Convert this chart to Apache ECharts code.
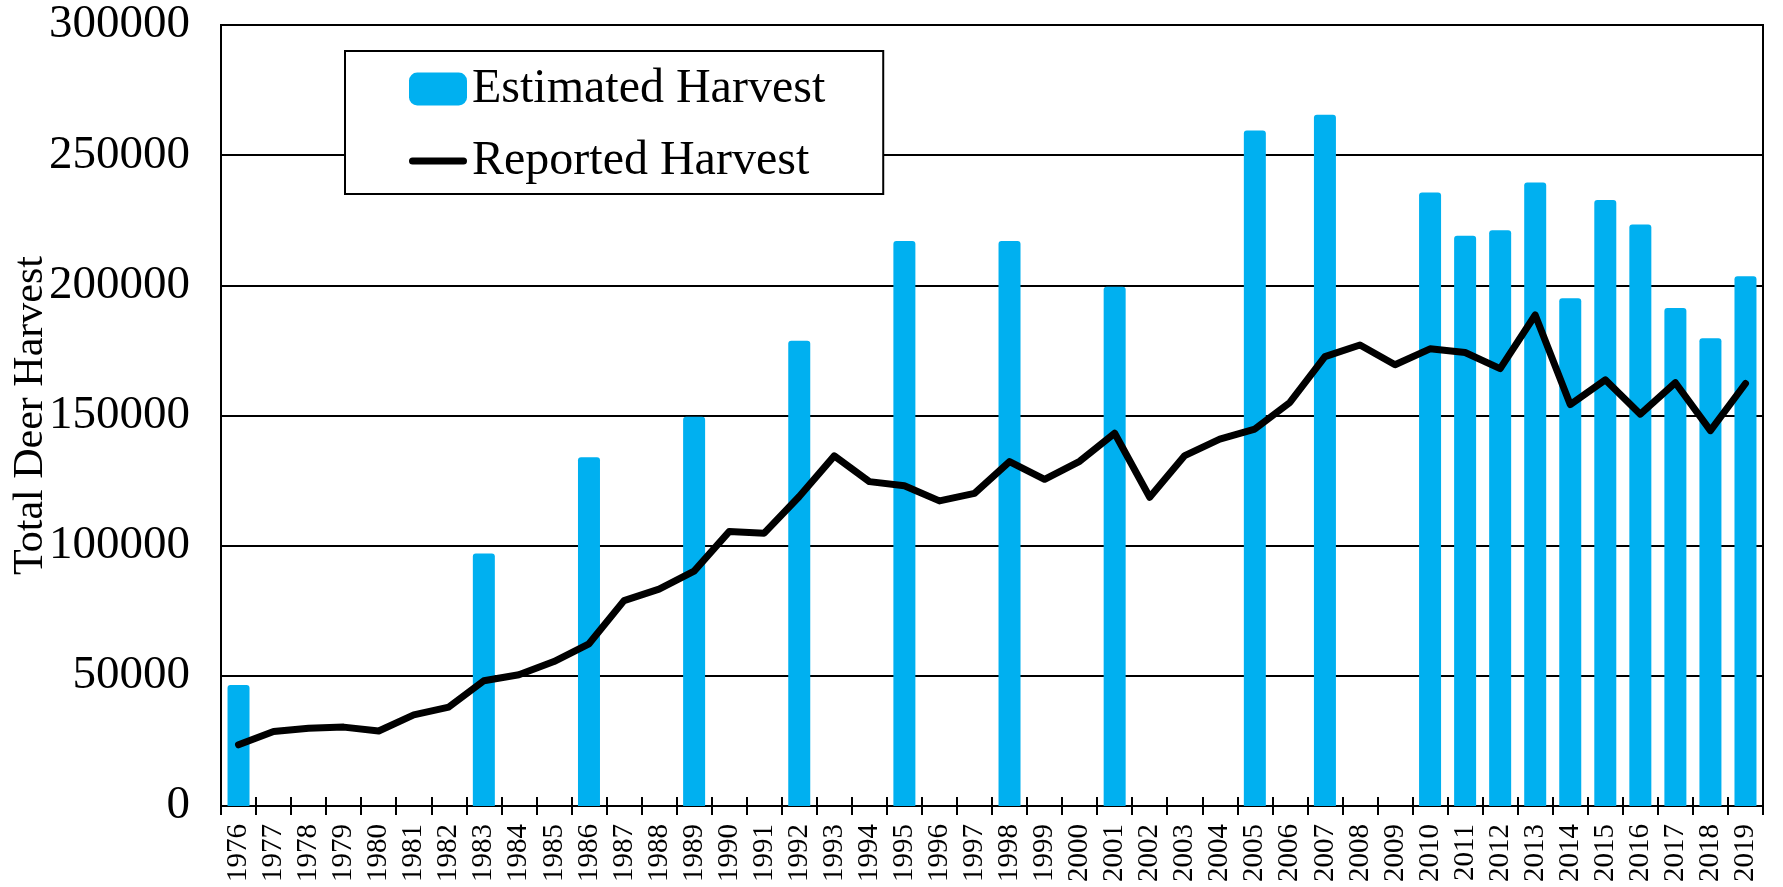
<!DOCTYPE html>
<html>
<head>
<meta charset="utf-8">
<script src="https://cdn.jsdelivr.net/npm/echarts@6/dist/echarts.min.js"></script>
<style>
html,body{margin:0;padding:0;background:#fff;}
#chart{width:1783px;height:887px;}
</style>
</head>
<body>
<div id="chart"></div>
<script>
const years = ['1976','1977','1978','1979','1980','1981','1982','1983','1984','1985','1986','1987','1988','1989','1990','1991','1992','1993','1994','1995','1996','1997','1998','1999','2000','2001','2002','2003','2004','2005','2006','2007','2008','2009','2010','2011','2012','2013','2014','2015','2016','2017','2018','2019'];

const estimatedHarvest = [46500,null,null,null,null,null,null,97000,null,null,134000,null,null,149500,null,null,178700,null,null,217000,null,null,217000,null,null,199500,null,null,null,259500,null,265500,null,null,235700,219000,221200,239500,195000,232800,223400,191300,179700,203500];

const reportedHarvest = [23500,28600,29900,30300,28800,35000,38000,48100,50400,55500,62300,78900,83300,90200,105400,104800,118900,134500,124600,123000,117200,120100,132300,125500,132400,143200,118600,134600,140900,144800,155000,172600,177100,169500,175600,174200,168000,188600,154200,163700,150500,162600,144200,162300];

const yTicks = {min: 0, max: 300000, interval: 50000};
const seriesNames = ['Estimated Harvest', 'Reported Harvest'];
const yTitle = 'Total Deer Harvest';

const FONT = '"Liberation Serif", "Times New Roman", serif';
const chart = echarts.init(document.getElementById('chart'), null, {renderer: 'canvas'});

chart.setOption({
  animation: false,
  backgroundColor: '#ffffff',
  grid: {
    left: 221, right: 20, top: 25, bottom: 81,
    containLabel: false,
    outerBoundsMode: 'none',
    show: true, borderColor: '#000', borderWidth: 2, backgroundColor: 'transparent'
  },
  legend: {
    orient: 'vertical',
    left: 345, top: 51,
    padding: [14, 58, 9, 64],
    itemGap: 24,
    itemWidth: 58, itemHeight: 33,
    borderColor: '#000', borderWidth: 2,
    backgroundColor: '#fff',
    textStyle: {fontFamily: FONT, fontSize: 48, color: '#000', lineHeight: 47},
    data: [
      {name: seriesNames[0], icon: 'roundRect', itemStyle: {color: '#00B0F0'}},
      {name: seriesNames[1], icon: 'path://M3.5,0 L54.5,0 A3.5,3.5 0 0 1 54.5,7 L3.5,7 A3.5,3.5 0 0 1 3.5,0 Z', itemStyle: {color: '#000'}}
    ]
  },
  xAxis: [{
    type: 'category',
    data: years,
    boundaryGap: true,
    axisLine: {show: true, lineStyle: {color: '#000', width: 2}},
    axisTick: {show: true, length: 9, lineStyle: {color: '#000', width: 2}},
    axisLabel: {rotate: 90, fontFamily: FONT, fontSize: 29, color: '#000', margin: 18, interval: 0},
    splitLine: {show: false}
  }, {
    type: 'category',
    data: years,
    position: 'bottom',
    boundaryGap: true,
    axisLine: {show: false},
    axisTick: {show: true, inside: true, length: 9, lineStyle: {color: '#000', width: 2}},
    axisLabel: {show: false},
    splitLine: {show: false}
  }],
  yAxis: {
    type: 'value',
    min: yTicks.min, max: yTicks.max, interval: yTicks.interval,
    name: yTitle,
    nameLocation: 'middle',
    nameRotate: 90,
    nameGap: 169,
    nameMoveOverlap: false,
    nameTextStyle: {fontFamily: FONT, fontSize: 42, color: '#000'},
    axisLine: {show: true, lineStyle: {color: '#000', width: 2}},
    axisTick: {show: false},
    axisLabel: {fontFamily: FONT, fontSize: 47, color: '#000', margin: 31, formatter: function (v) { return String(v); }},
    splitLine: {show: true, lineStyle: {color: '#000', width: 2}}
  },
  series: [{
    name: seriesNames[0],
    type: 'bar',
    data: estimatedHarvest,
    barWidth: 22,
    itemStyle: {color: '#00B0F0', borderRadius: [3, 3, 0, 0]},
    z: 2
  }, {
    name: seriesNames[1],
    type: 'line',
    data: reportedHarvest,
    symbol: 'none',
    lineStyle: {color: '#000', width: 7, cap: 'round', join: 'round'},
    itemStyle: {color: '#000'},
    z: 3
  }]
});
</script>
</body>
</html>
